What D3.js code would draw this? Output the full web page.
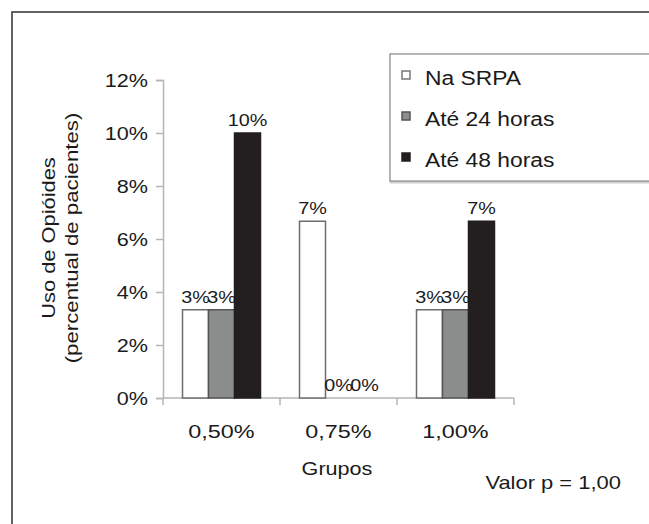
<!DOCTYPE html>
<html>
<head>
<meta charset="utf-8">
<script src="https://cdn.jsdelivr.net/npm/d3@7"></script>
<style>
  body { margin: 0; background: #fff; }
  svg text { font-family: "Liberation Sans", Arial, sans-serif; fill: #1a1a1a; }
</style>
</head>
<body>
<svg id="chart" width="649" height="524"></svg>
<script>
// data (percent of patients)
var groups = ["0,50%", "0,75%", "1,00%"];
var series = ["Na SRPA", "Até 24 horas", "Até 48 horas"];
var naSRPA = [3.33, 6.67, 3.33];
var ate24 = [3.33, 0, 3.33];
var ate48 = [10, 0, 6.67];
var yTicks = [0, 2, 4, 6, 8, 10, 12];

var values = [naSRPA, ate24, ate48];
var fills = ["#ffffff", "#8c8e8e", "#231f20"];
var strokes = ["#6d6d6d", "#555555", "#231f20"];

var svg = d3.select("#chart");

// frame
svg.append("rect")
    .attr("x", 12).attr("y", 12)
    .attr("width", 660).attr("height", 540)
    .attr("fill", "none")
    .attr("stroke", "#3c3c3c")
    .attr("stroke-width", 1.6);

var x0 = d3.scaleBand()
    .domain(groups)
    .range([163, 514])
    .paddingInner(0).paddingOuter(0);

var x1 = d3.scaleBand()
    .domain(series)
    .range([0, x0.bandwidth()])
    .paddingInner(0).paddingOuter(0.75);

var y = d3.scaleLinear()
    .domain([0, 12])
    .range([398, 80]);

// flatten for drawing
var bars = [];
groups.forEach(function (g, gi) {
    series.forEach(function (s, si) {
        bars.push({group: g, serie: s, si: si, value: values[si][gi]});
    });
});

// axes
var yAxis = svg.append("g")
    .attr("transform", "translate(163,0)")
    .call(d3.axisLeft(y).tickValues(yTicks).tickSize(7).tickFormat(function (d) { return d + "%"; }));
yAxis.select(".domain").attr("stroke", "#b5b5b5").attr("stroke-width", 1.5);
yAxis.selectAll(".tick line").attr("stroke", "#b5b5b5").attr("stroke-width", 1.5);
yAxis.selectAll(".tick text")
    .attr("x", null).attr("dy", null)
    .attr("transform", "translate(-15,6.5) scale(1.2,1)")
    .style("font-size", "18px")
    .attr("fill", "#1a1a1a");

var xAxis = svg.append("g")
    .attr("transform", "translate(0,398)");
xAxis.append("line")
    .attr("x1", 163).attr("x2", 514)
    .attr("stroke", "#b5b5b5").attr("stroke-width", 1.5);
xAxis.selectAll(".sep")
    .data(groups.concat(["end"]))
    .enter().append("line")
    .attr("class", "sep")
    .attr("x1", function (d, i) { return i < groups.length ? x0(d) : x0(groups[groups.length - 1]) + x0.bandwidth(); })
    .attr("x2", function (d, i) { return i < groups.length ? x0(d) : x0(groups[groups.length - 1]) + x0.bandwidth(); })
    .attr("y1", 0).attr("y2", 7)
    .attr("stroke", "#b5b5b5").attr("stroke-width", 1.5);
xAxis.selectAll(".lbl")
    .data(groups)
    .enter().append("text")
    .attr("class", "lbl")
    .attr("text-anchor", "middle")
    .attr("transform", function (d) { return "translate(" + (x0(d) + x0.bandwidth() / 2) + ",40) scale(1.3,1)"; })
    .style("font-size", "18px")
    .text(function (d) { return d; });

// bars
svg.append("g").selectAll("rect")
    .data(bars)
    .enter().append("rect")
    .attr("x", function (d) { return x0(d.group) + x1(d.serie); })
    .attr("y", function (d) { return y(d.value); })
    .attr("width", x1.bandwidth())
    .attr("height", function (d) { return y(0) - y(d.value); })
    .attr("fill", function (d) { return fills[d.si]; })
    .attr("stroke", function (d) { return d.value > 0 ? strokes[d.si] : "none"; })
    .attr("stroke-width", 1.5);

// value labels
svg.append("g").selectAll("text")
    .data(bars)
    .enter().append("text")
    .attr("text-anchor", "middle")
    .attr("transform", function (d) {
        return "translate(" + (x0(d.group) + x1(d.serie) + x1.bandwidth() / 2) + "," + (y(d.value) - 7) + ") scale(1.2,1)";
    })
    .style("font-size", "16.5px")
    .text(function (d) { return Math.round(d.value) + "%"; });

// axis titles
var yt = svg.append("g").attr("transform", "translate(55,238) rotate(-90)");
yt.append("text")
    .attr("text-anchor", "middle")
    .attr("transform", "scale(1.15,1)")
    .style("font-size", "19px")
    .text("Uso de Opióides");
yt.append("text")
    .attr("text-anchor", "middle")
    .attr("transform", "translate(0,23) scale(1.17,1)")
    .style("font-size", "19px")
    .text("(percentual de pacientes)");

svg.append("text")
    .attr("text-anchor", "middle")
    .attr("transform", "translate(337,475) scale(1.2,1)")
    .style("font-size", "18px")
    .text("Grupos");

svg.append("text")
    .attr("text-anchor", "end")
    .attr("transform", "translate(621,489) scale(1.22,1)")
    .style("font-size", "18px")
    .text("Valor p = 1,00");

// legend
var legend = svg.append("g");
legend.append("rect")
    .attr("x", 391).attr("y", 55)
    .attr("width", 300).attr("height", 127)
    .attr("fill", "none").attr("stroke", "#d0d0d0").attr("stroke-width", 3);
legend.append("rect")
    .attr("x", 390).attr("y", 54)
    .attr("width", 300).attr("height", 127)
    .attr("fill", "#fff").attr("stroke", "#8a8a8a").attr("stroke-width", 1.2);
var items = legend.selectAll(".item")
    .data(series)
    .enter().append("g")
    .attr("class", "item")
    .attr("transform", function (d, i) { return "translate(0," + (85 + i * 41) + ")"; });
items.append("rect")
    .attr("x", 402).attr("y", -14)
    .attr("width", 8).attr("height", 8)
    .attr("fill", function (d, i) { return fills[i]; })
    .attr("stroke", function (d, i) { return i === 0 ? "#777" : strokes[i]; })
    .attr("stroke-width", 1.5);
items.append("text")
    .attr("transform", "translate(425,0) scale(1.17,1)")
    .style("font-size", "19.5px")
    .text(function (d) { return d; });
</script>
</body>
</html>
